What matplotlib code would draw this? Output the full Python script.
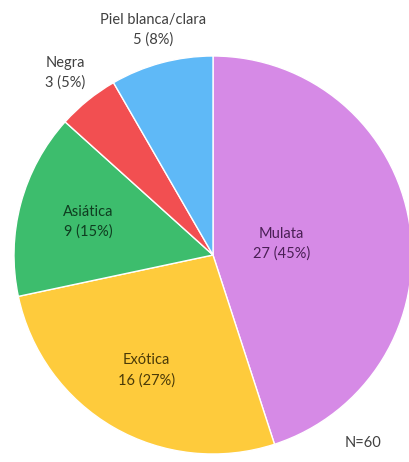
import numpy as np
import matplotlib.pyplot as plt

# Data
categories = ["Mulata", "Exótica", "Asiática", "Negra", "Piel blanca/clara"]
counts = [27, 16, 9, 3, 5]
percents = [45, 27, 15, 5, 8]
colors = ["#D68AE6", "#FECB3C", "#3DBD6D", "#F24F51", "#5FB9F7"]
text_colors = ["#4A1F55", "#4A3A08", "#0F3D20", "#404040", "#404040"]
label_radius = [0.35, 0.67, 0.65, 1.18, 1.17]

plt.rcParams['font.family'] = ['Lato', 'DejaVu Sans']

fig = plt.figure(figsize=(4.09, 4.62), dpi=100)
W, H = 409, 462
cx, cy, r = 213, 255, 199
ax = fig.add_axes([(cx - r) / W, (H - cy - r) / H, 2 * r / W, 2 * r / H])

wedges, _ = ax.pie(counts, colors=colors, startangle=90, counterclock=False,
                   radius=1, wedgeprops=dict(edgecolor="white", linewidth=1))
ax.set_xlim(-1, 1)
ax.set_ylim(-1, 1)
ax.set_aspect("equal")
ax.axis("off")

for w, cat, n, p, rr, tc in zip(wedges, categories, counts, percents, label_radius, text_colors):
    ang = np.deg2rad((w.theta1 + w.theta2) / 2)
    ax.text(rr * np.cos(ang), rr * np.sin(ang), f"{cat}\n{n} ({p}%)",
            ha="center", va="center", fontsize=10.5, color=tc,
            linespacing=1.5, clip_on=False)

fig.text(363 / W, 1 - 443 / H, "N=60", ha="center", va="center",
         fontsize=10.5, color="#404040")

fig.savefig("out.png", dpi=100)
